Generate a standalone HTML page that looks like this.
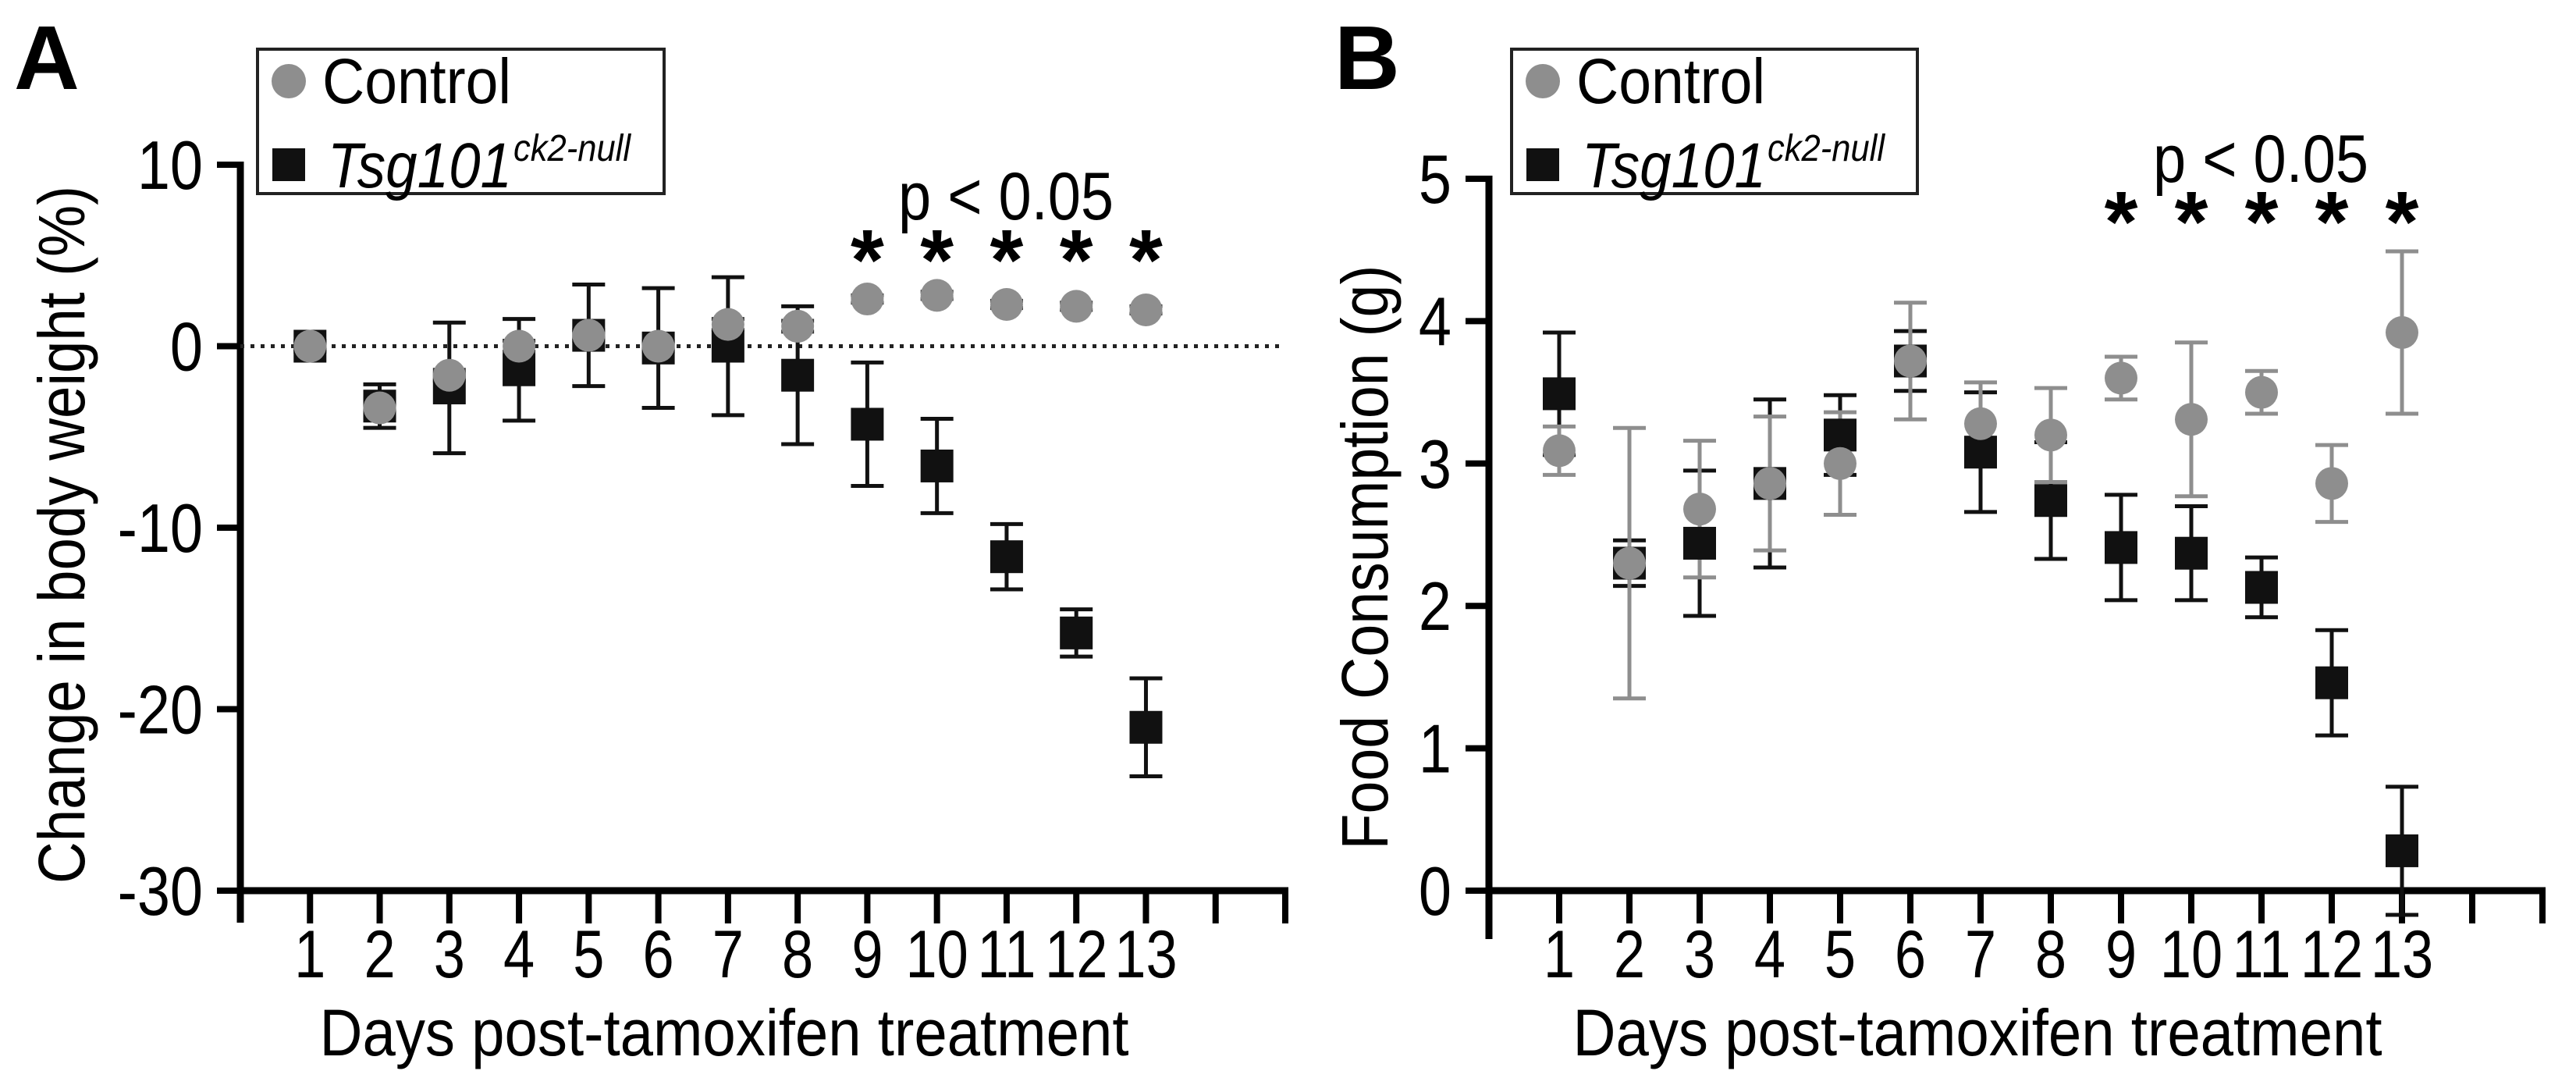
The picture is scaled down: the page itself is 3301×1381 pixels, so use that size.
<!DOCTYPE html>
<html><head><meta charset="utf-8"><style>
html,body{margin:0;padding:0;background:#fff;}
svg{display:block;font-family:"Liberation Sans",Arial,sans-serif;}
</style></head><body>
<svg id="fig" width="3301" height="1381" viewBox="0 0 3301 1381" xmlns="http://www.w3.org/2000/svg"></svg>
<script>
// ---- Panel A data ----
const daysA = [1,2,3,4,5,6,7,8,9,10,11,12,13];
const ctrlA = [0,-3.4,-1.6,0,0.6,0,1.2,1.1,2.6,2.8,2.3,2.2,2.0];
const ctrlErrA = [0.2,0.5,0.3,0.3,0.3,0.3,0.3,0.3,0.2,0.2,0.2,0.2,0.2];
const koA = [0,-3.3,-2.3,-1.3,0.6,-0.1,0,-1.6,-4.3,-6.6,-11.6,-15.8,-21];
const koErrA = [0.3,1.2,3.6,2.8,2.8,3.3,3.8,3.8,3.4,2.6,1.8,1.3,2.7];
const yTicksA = [10,0,-10,-20,-30];
const starDaysA = [9,10,11,12,13];
// ---- Panel B data ----
const daysB = [1,2,3,4,5,6,7,8,9,10,11,12,13];
const ctrlB = [3.09,2.3,2.68,2.86,3.0,3.72,3.28,3.2,3.6,3.31,3.5,2.86,3.92];
const ctrlErrB = [0.17,0.95,0.48,0.47,0.36,0.41,0.29,0.33,0.15,0.54,0.15,0.27,0.57];
const koB = [3.49,2.3,2.44,2.86,3.2,3.72,3.08,2.74,2.41,2.37,2.13,1.46,0.28];
const koErrB = [0.43,0.16,0.51,0.59,0.28,0.21,0.42,0.41,0.37,0.33,0.21,0.37,0.45];
const yTicksB = [5,4,3,2,1,0];
const starDaysB = [9,10,11,12,13];

const NS = "http://www.w3.org/2000/svg";
const svg = document.getElementById('fig');
function mk(tag, attrs, parent, txt){
  const e = document.createElementNS(NS, tag);
  for (const k in attrs) e.setAttribute(k, attrs[k]);
  if (txt !== undefined) e.textContent = txt;
  (parent||svg).appendChild(e);
  return e;
}
const GREY = '#8e8e8e', BLACK = '#111';

function panel(o){
  const g = mk('g', {});
  
  
  const xs = d => o.x0 + (d - 0) * (o.x1 - o.x0) / 15;
  const ys = v => o.yTop + (o.vMax - v) * (o.yBot - o.yTop) / (o.vMax - o.vMin);
  const L = mk('text', {x:o.letterX, y:114, 'font-size':116, 'font-weight':'bold', fill:'#000'}, g, o.letter);
  
  
  const ya = mk('line', {x1:o.x0, y1:o.yTop-4, x2:o.x0, y2:o.axisBottom, stroke:'#000','stroke-width':9}, g);
  
  
  o.yTicks.forEach(t => {
    const y = ys(t);
    mk('line', {x1:o.x0-30, y1:y, x2:o.x0, y2:y, stroke:'#000','stroke-width':8}, g);
    const tl = mk('text', {x:0, y:0, 'font-size':88, 'text-anchor':'end', fill:'#000', transform:`translate(${o.x0-48},${y+31}) scale(0.86,1)`}, g, String(t));
    
    
  });
  const xa = mk('line', {x1:o.x0-4, y1:o.yBot, x2:o.x1+4, y2:o.yBot, stroke:'#000','stroke-width':9}, g);
  
  
  for (let d = 1; d <= 15; d++){
    mk('line', {x1:xs(d), y1:o.yBot, x2:xs(d), y2:o.yBot+42, stroke:'#000','stroke-width':8}, g);
  }
  o.days.forEach(d => {
    const tl = mk('text', {x:0, y:0, 'font-size':86, 'text-anchor':'middle', fill:'#000', transform:`translate(${xs(d)},${1252}) scale(0.84,1)`}, g, String(d));
    
    
  });
  const xt = mk('text', {x:o.xLabelX, y:1352, 'font-size':84, 'text-anchor':'middle', fill:'#000', textLength:1037, lengthAdjust:'spacingAndGlyphs'}, g, 'Days post-tamoxifen treatment');
  
  
  const yt = mk('text', {x:0, y:0, 'font-size':84, 'text-anchor':'middle', fill:'#000', textLength:o.yLabelLen, lengthAdjust:'spacingAndGlyphs', transform:`translate(${o.yLabelX},${o.yLabelY}) rotate(-90)`}, g, o.yLabel);
  
  
  if (o.zeroLine){
    const zl = mk('line', {x1:o.x0, y1:ys(0), x2:o.x1, y2:ys(0), stroke:'#222','stroke-width':5,'stroke-dasharray':'5 8'}, g);
    
    
  }
  function errbar(d, v, e, col, nm){
    const x = xs(d), yt = ys(v+e), yb = ys(v-e);
    const eg = mk('g', {stroke:col,'stroke-width':5}, g);
    
    
    mk('line', {x1:x, y1:yt, x2:x, y2:yb}, eg);
    mk('line', {x1:x-21, y1:yt, x2:x+21, y2:yt}, eg);
    mk('line', {x1:x-21, y1:yb, x2:x+21, y2:yb}, eg);
  }
  o.days.forEach((d,i) => errbar(d, o.ko[i], o.koErr[i], BLACK, 'ko-error-bar'));
  o.days.forEach((d,i) => errbar(d, o.ctrl[i], o.ctrlErr[i], o.ctrlErrCol, 'control-error-bar'));
  o.days.forEach((d,i) => {
    const r = mk('rect', {x:xs(d)-21, y:ys(o.ko[i])-21, width:42, height:42, fill:BLACK}, g);
    
    
  });
  o.days.forEach((d,i) => {
    const c = mk('circle', {cx:xs(d), cy:ys(o.ctrl[i]), r:21, fill:GREY}, g);
    
    
  });
  const pv = mk('text', {x:o.pX, y:o.pY+30, 'font-size':86, 'text-anchor':'middle', fill:'#000', textLength:276, lengthAdjust:'spacingAndGlyphs'}, g, 'p < 0.05');
  
  
  o.stars.forEach(d => {
    const s = mk('text', {x:xs(d), y:o.starY+58, 'font-size':110, 'font-weight':'bold', 'text-anchor':'middle', fill:'#000'}, g, '*');
    
    
  });
  const lg = mk('g', {}, g);
  
  
  mk('rect', {x:o.legX, y:63, width:o.legW, height:185, fill:'#fff', stroke:'#222','stroke-width':4}, lg);
  const e1 = mk('g', {}, lg);
  
  
  mk('circle', {cx:o.legX+40, cy:104, r:22, fill:GREY}, e1);
  mk('text', {x:o.legX+83, y:132, 'font-size':82, fill:'#000', textLength:242, lengthAdjust:'spacingAndGlyphs'}, e1, 'Control');
  const e2 = mk('g', {}, lg);
  
  
  mk('rect', {x:o.legX+19, y:190, width:42, height:42, fill:BLACK}, e2);
  mk('text', {x:o.legX+90, y:240, 'font-size':82, 'font-style':'italic', fill:'#000', textLength:236, lengthAdjust:'spacingAndGlyphs'}, e2, 'Tsg101');
  mk('text', {x:o.legX+328, y:206, 'font-size':48, 'font-style':'italic', fill:'#000', textLength:150, lengthAdjust:'spacingAndGlyphs'}, e2, 'ck2-null');
}

panel({name:'panel-a', letter:'A', letterX:18, x0:308, x1:1647, yTop:211, yBot:1141, vMax:10, vMin:-30, axisBottom:1182,
  yTicks:yTicksA, days:daysA, ctrl:ctrlA, ctrlErr:ctrlErrA, ko:koA, koErr:koErrA, ctrlErrCol:'#333',
  zeroLine:true, xLabelX:928, yLabelX:108, yLabelY:685, yLabelLen:894, yLabel:'Change in body weight (%)',
  pX:1289, pY:251, stars:starDaysA, starY:313, legX:330, legW:521});
panel({name:'panel-b', letter:'B', letterX:1710, x0:1908, x1:3258, yTop:229, yBot:1141, vMax:5, vMin:0, axisBottom:1203,
  yTicks:yTicksB, days:daysB, ctrl:ctrlB, ctrlErr:ctrlErrB, ko:koB, koErr:koErrB, ctrlErrCol:'#8e8e8e',
  zeroLine:false, xLabelX:2534, yLabelX:1778, yLabelY:714, yLabelLen:749, yLabel:'Food Consumption (g)',
  pX:2897, pY:203, stars:starDaysB, starY:264, legX:1937, legW:520});
</script>
</body></html>
